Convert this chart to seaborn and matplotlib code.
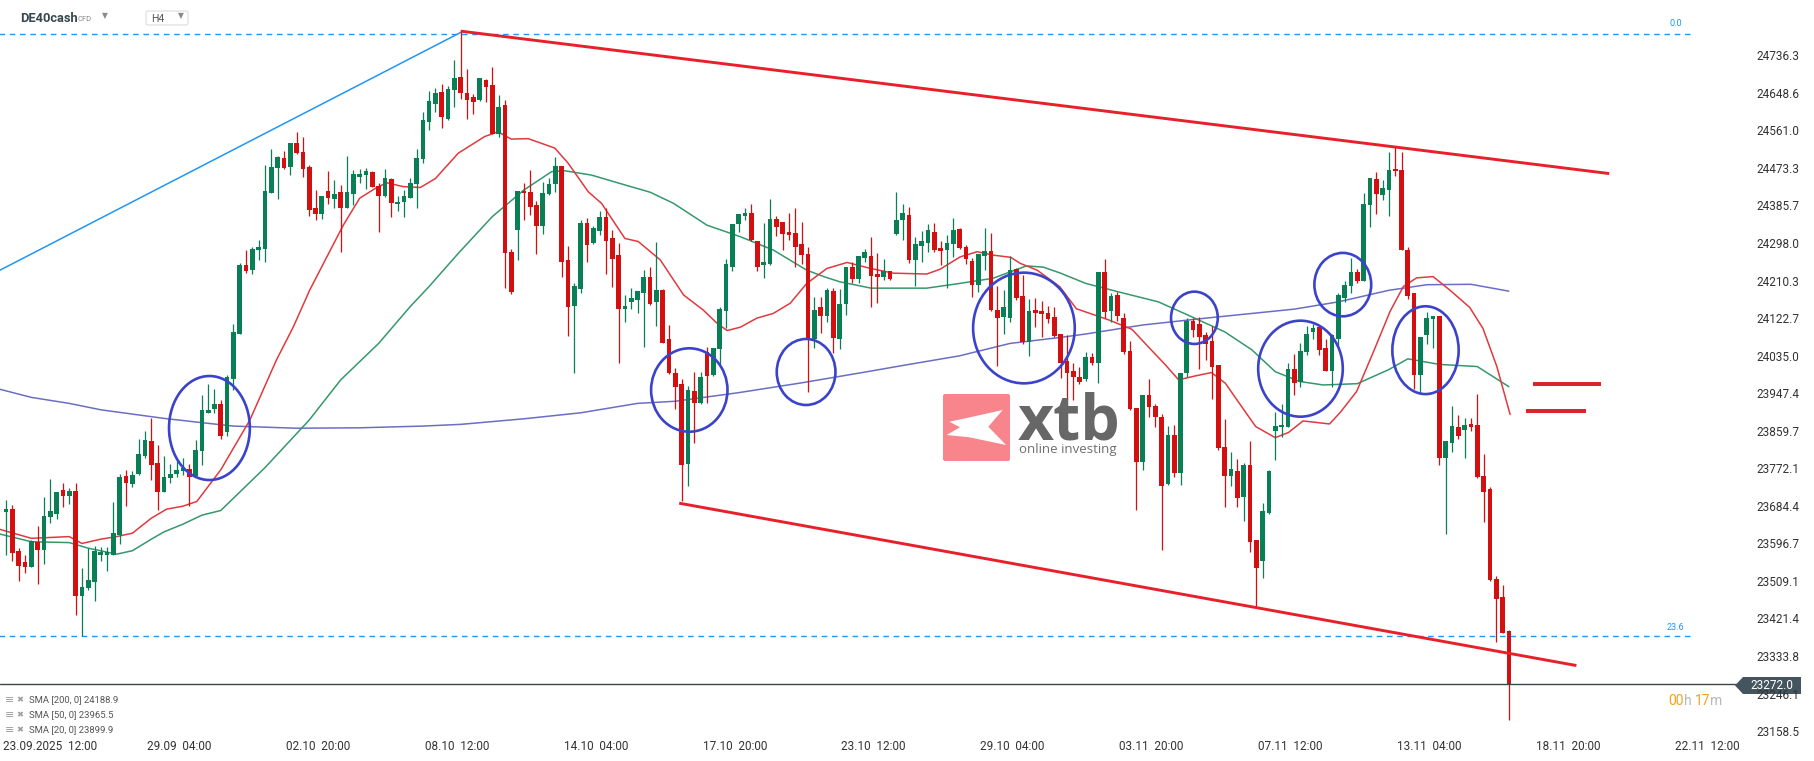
import numpy as np
import pandas as pd
import matplotlib
matplotlib.use("Agg")
import matplotlib.pyplot as plt
import matplotlib.transforms as mtransforms
from matplotlib.patches import Ellipse, Polygon, FancyBboxPatch
from matplotlib.lines import Line2D
import seaborn as sns

# ---------------- data ----------------
first_index = -6  # candle index of the first visible H4 candle (0 = 23.09.2025 12:00)
opens = [23674, 23680, 23582, 23557, 23546, 23603, 23585, 23662, 23669, 23725,
         23711, 23722, 23477, 23497, 23511, 23573, 23573, 23573, 23620, 23757,
         23739, 23762, 23804, 23839, 23788, 23721, 23752, 23762, 23768, 23773,
         23757, 23817, 23905, 23915, 23926, 23860, 23985, 24090, 24250, 24238,
         24285, 24287, 24419, 24476, 24501, 24478, 24534, 24514, 24479, 24383,
         24368, 24423, 24403, 24420, 24384, 24416, 24456, 24461, 24467, 24435,
         24410, 24451, 24392, 24398, 24407, 24439, 24497, 24585, 24626, 24654,
         24592, 24659, 24689, 24652, 24642, 24635, 24682, 24670, 24556, 24624,
         24280, 24332, 24423, 24421, 24390, 24341, 24416, 24439, 24481, 24262,
         24155, 24195, 24348, 24301, 24329, 24362, 24312, 24273, 24148, 24164,
         24168, 24185, 24221, 24164, 24192, 24077, 23997, 23972, 23785, 23956,
         23927, 24046, 23993, 24054, 24143, 24246, 24345, 24365, 24371, 24306,
         24249, 24252, 24357, 24350, 24327, 24325, 24299, 24276, 24077, 24151,
         24131, 24190, 24077, 24159, 24245, 24218, 24266, 24271, 24229, 24223,
         24236, 24322, 24354, 24367, 24262, 24295, 24302, 24326, 24289, 24285,
         24299, 24333, 24291, 24259, 24203, 24271, 24283, 24145, 24129, 24126,
         24241, 24178, 24071, 24145, 24143, 24139, 24129, 24089, 24026, 24003,
         23989, 23984, 24035, 24022, 24233, 24143, 24180, 24126, 24049, 23916,
         23789, 23947, 23921, 23896, 23739, 23853, 23765, 23997, 24119, 24112,
         24087, 24073, 24017, 23826, 23758, 23768, 23709, 23783, 23608, 23560,
         23670, 23863, 23871, 23873, 24007, 23977, 24047, 24093, 24105, 24056,
         24002, 24077, 24173, 24200, 24234, 24213, 24389, 24451, 24414, 24425,
         24474, 24473, 24286, 24184, 23993, 24087, 24124, 24130, 23799, 23835,
         23872, 23864, 23879, 23877, 23757, 23726, 23516, 23476, 23396]
highs = [23701, 23690, 23589, 23573, 23607, 23641, 23708, 23750, 23721, 23742,
         23729, 23742, 23543, 23589, 23594, 23592, 23592, 23696, 23762, 23771,
         23770, 23844, 23862, 23894, 23830, 23804, 23786, 23793, 23799, 23786,
         23842, 23947, 23972, 23961, 23935, 23993, 24112, 24254, 24285, 24293,
         24308, 24484, 24521, 24505, 24517, 24536, 24561, 24549, 24483, 24425,
         24410, 24470, 24448, 24437, 24505, 24472, 24475, 24476, 24470, 24441,
         24475, 24452, 24410, 24425, 24454, 24520, 24607, 24656, 24663, 24673,
         24668, 24729, 24797, 24708, 24649, 24687, 24684, 24712, 24647, 24635,
         24287, 24423, 24441, 24472, 24399, 24444, 24454, 24502, 24482, 24294,
         24207, 24355, 24359, 24340, 24377, 24382, 24332, 24301, 24180, 24197,
         24190, 24238, 24246, 24303, 24194, 24110, 24009, 23985, 23968, 24001,
         24001, 24058, 24057, 24151, 24263, 24346, 24370, 24382, 24392, 24307,
         24349, 24404, 24364, 24351, 24372, 24382, 24351, 24291, 24176, 24175,
         24196, 24196, 24193, 24245, 24258, 24270, 24287, 24316, 24279, 24264,
         24237, 24421, 24393, 24385, 24316, 24330, 24346, 24349, 24305, 24319,
         24359, 24336, 24297, 24266, 24276, 24336, 24324, 24201, 24192, 24270,
         24242, 24227, 24170, 24172, 24165, 24154, 24151, 24090, 24087, 24022,
         24013, 24048, 24044, 24234, 24263, 24184, 24186, 24139, 24073, 23916,
         23947, 23983, 23926, 23902, 23874, 23877, 23999, 24127, 24127, 24128,
         24094, 24108, 24017, 23890, 23814, 23796, 23787, 23839, 23609, 23694,
         23772, 23906, 23926, 24021, 24042, 24068, 24108, 24113, 24111, 24077,
         24089, 24184, 24212, 24267, 24240, 24418, 24454, 24467, 24449, 24514,
         24525, 24514, 24292, 24184, 24082, 24140, 24130, 24130, 23839, 23920,
         23900, 23893, 23893, 23949, 23808, 23732, 23525, 23503, 23397]
lows = [23573, 23560, 23513, 23532, 23546, 23505, 23552, 23648, 23658, 23686,
        23692, 23433, 23384, 23491, 23466, 23560, 23536, 23573, 23599, 23687,
        23731, 23760, 23800, 23748, 23678, 23719, 23742, 23756, 23760, 23687,
        23757, 23782, 23905, 23904, 23845, 23850, 23958, 24088, 24232, 24230,
        24262, 24258, 24418, 24405, 24474, 24461, 24509, 24456, 24365, 24356,
        24358, 24392, 24384, 24281, 24383, 24390, 24441, 24427, 24431, 24326,
        24409, 24363, 24377, 24363, 24407, 24382, 24489, 24565, 24608, 24571,
        24589, 24620, 24638, 24591, 24603, 24633, 24631, 24555, 24550, 24196,
        24182, 24262, 24355, 24367, 24276, 24323, 24414, 24421, 24221, 24084,
        23999, 24185, 24256, 24299, 24320, 24229, 24199, 24022, 24118, 24148,
        24139, 24059, 24157, 24108, 24067, 23996, 23915, 23698, 23733, 23835,
        23926, 23927, 23990, 24020, 24102, 24237, 24326, 24354, 24307, 24237,
        24219, 24250, 24318, 24285, 24308, 24246, 24252, 23954, 24056, 24091,
        24118, 24045, 24054, 24133, 24207, 24207, 24258, 24151, 24162, 24214,
        24214, 24320, 24308, 24254, 24200, 24256, 24281, 24281, 24250, 24196,
        24268, 24287, 24252, 24175, 24188, 24238, 24143, 24014, 24089, 24118,
        24168, 24066, 24038, 24106, 24083, 24114, 24083, 23986, 23937, 23935,
        23972, 23980, 24017, 23974, 24126, 24116, 24120, 24042, 23912, 23678,
        23772, 23896, 23873, 23585, 23737, 23756, 23737, 23989, 24083, 24007,
        24028, 23937, 23818, 23686, 23733, 23684, 23653, 23579, 23449, 23519,
        23669, 23795, 23848, 23871, 23947, 23966, 24040, 24077, 24041, 24002,
        23966, 24062, 24164, 24184, 24207, 24212, 24338, 24369, 24402, 24365,
        24458, 24284, 24171, 23961, 23952, 24066, 24056, 23784, 23621, 23814,
        23845, 23799, 23863, 23752, 23649, 23513, 23370, 23390, 23189]
closes = [23680, 23578, 23548, 23546, 23606, 23585, 23664, 23676, 23719, 23711,
          23722, 23477, 23499, 23515, 23583, 23581, 23579, 23624, 23754, 23742,
          23760, 23810, 23841, 23782, 23721, 23754, 23762, 23772, 23775, 23754,
          23818, 23912, 23912, 23926, 23852, 23989, 24094, 24250, 24237, 24287,
          24291, 24423, 24480, 24503, 24477, 24535, 24512, 24475, 24378, 24368,
          24410, 24406, 24416, 24384, 24420, 24463, 24463, 24469, 24433, 24410,
          24453, 24394, 24397, 24411, 24441, 24500, 24589, 24633, 24652, 24596,
          24661, 24687, 24652, 24635, 24631, 24687, 24666, 24556, 24619, 24277,
          24188, 24423, 24417, 24386, 24341, 24418, 24439, 24481, 24258, 24153,
          24201, 24348, 24297, 24336, 24362, 24306, 24264, 24148, 24154, 24174,
          24189, 24222, 24159, 24192, 24069, 23997, 23966, 23783, 23958, 23927,
          23988, 23992, 24056, 24147, 24252, 24346, 24369, 24371, 24308, 24246,
          24258, 24357, 24338, 24322, 24319, 24293, 24273, 24077, 24145, 24131,
          24192, 24080, 24159, 24245, 24218, 24270, 24280, 24225, 24223, 24236,
          24217, 24355, 24372, 24262, 24299, 24306, 24332, 24284, 24283, 24301,
          24332, 24289, 24264, 24203, 24276, 24283, 24144, 24127, 24151, 24238,
          24172, 24071, 24143, 24139, 24136, 24124, 24085, 24022, 23999, 23988,
          23978, 24035, 24022, 24233, 24141, 24178, 24130, 24048, 23913, 23789,
          23947, 23919, 23896, 23735, 23853, 23765, 23999, 24119, 24098, 24083,
          24066, 24013, 23822, 23758, 23774, 23707, 23783, 23604, 23542, 23676,
          23770, 23874, 23877, 24007, 23974, 24050, 24090, 24102, 24051, 24002,
          24086, 24179, 24204, 24234, 24212, 24393, 24454, 24416, 24429, 24473,
          24469, 24285, 24178, 23993, 24081, 24126, 24130, 23799, 23839, 23875,
          23852, 23877, 23873, 23756, 23721, 23514, 23471, 23391, 23272]

sma200_x = [-7, -2, 4, 9, 14, 19, 25, 30, 40, 50, 60, 66, 76, 85, 94, 100, 110,
            120, 130, 137, 145, 153, 161, 165, 174, 184, 198, 205, 213, 219, 226, 232]
sma200_y = [23960, 23941, 23927, 23912, 23902, 23892, 23882, 23874, 23869, 23870,
            23874, 23878, 23891, 23905, 23927, 23932, 23952, 23975, 24000, 24018,
            24038, 24067, 24081, 24089, 24110, 24126, 24147, 24164, 24191, 24204,
            24205, 24189]
sma50_x = [-7, -2, 4, 7, 11.5, 14, 17, 19, 22, 25, 28, 35, 42, 47, 53, 58, 61,
           65.6, 71, 76, 80.4, 82.5, 86.7, 92, 96, 99.7, 105, 110.3, 115.5, 120.8,
           123.5, 126, 131, 139.8, 145, 150.3, 155.6, 158.3, 161, 165, 170, 176.5,
           181.8, 187, 191.3, 195, 198.9, 202.6, 208, 213, 216, 221, 227, 232]
sma50_y = [23622, 23604, 23602, 23589, 23575, 23583, 23610, 23627, 23645, 23666,
           23677, 23777, 23888, 23982, 24067, 24153, 24200, 24277, 24363, 24425,
           24468, 24470, 24460, 24437, 24420, 24394, 24343, 24316, 24285, 24238,
           24223, 24211, 24196, 24196, 24207, 24219, 24248, 24245, 24231, 24207,
           24188, 24164, 24129, 24094, 24052, 24001, 23978, 23970, 23973, 24006,
           24031, 24018, 24013, 23966]
sma20_x = [-7, -2, 4, 6, 9, 11.5, 14, 17, 19.4, 22, 24.2, 28, 32.6, 36.8, 39.5,
           42.1, 44.8, 47.4, 50, 52.7, 54.3, 56.9, 59.6, 62, 65.6, 69.8, 71.9, 74,
           76.7, 80.9, 83, 86.2, 88.3, 92, 94.1, 97.6, 101.3, 104.4, 106.6, 108.2,
           110.3, 112.9, 115.5, 118.2, 120.8, 124, 127.2, 130.9, 134.5, 139.8,
           141.9, 145.1, 147.8, 150.4, 153.1, 154.6, 157.3, 160.9, 163.5, 168.6,
           172.3, 174.9, 177.6, 179.7, 182.3, 184.9, 187.1, 189.7, 191.9, 195,
           197.1, 199.4, 203.6, 205.3, 207.9, 210.6, 213.2, 215.3, 217.4, 220,
           222.7, 225.8, 227.9, 230.1, 232.2]
sma20_y = [23633, 23612, 23616, 23600, 23610, 23616, 23624, 23659, 23680, 23687,
           23698, 23772, 23888, 24028, 24106, 24192, 24269, 24343, 24406, 24431,
           24442, 24433, 24431, 24452, 24511, 24550, 24561, 24544, 24545, 24523,
           24488, 24421, 24394, 24312, 24305, 24262, 24180, 24145, 24114, 24097,
           24105, 24126, 24137, 24161, 24207, 24242, 24256, 24242, 24231, 24229,
           24240, 24269, 24281, 24273, 24268, 24254, 24238, 24199, 24148, 24122,
           24100, 24059, 24017, 23982, 23991, 23999, 23974, 23919, 23873, 23847,
           23859, 23886, 23879, 23906, 23955, 24049, 24142, 24200, 24220, 24223,
           24191, 24151, 24102, 24013, 23901]

price_ticks = [24736.3, 24648.6, 24561.0, 24473.3, 24385.7, 24298.0, 24210.3,
               24122.7, 24035.0, 23947.4, 23859.7, 23772.1, 23684.4, 23596.7,
               23509.1, 23421.4, 23333.8, 23246.1, 23158.5]
x_tick_pos = [0, 22, 44, 66, 88, 110, 132, 154, 176, 198, 220, 242, 264]
x_tick_labels = ["23.09.2025  12:00", "29.09  04:00", "02.10  20:00", "08.10  12:00",
                 "14.10  04:00", "17.10  20:00", "23.10  12:00", "29.10  04:00",
                 "03.11  20:00", "07.11  12:00", "13.11  04:00", "18.11  20:00",
                 "22.11  12:00"]
fib_levels = [24790.0, 23385.0]
fib_names = ["0.0", "23.6"]
fib_line = ([-6.97, 66.0], [24238.0, 24793.0])
channel_upper = ([66.0, 247.9], [24796.0, 24463.5])
channel_lower = ([100.6, 242.7], [23694.0, 23315.0])
equal_marks = [([235.9, 246.6], 23971.6), ([234.7, 244.2], 23909.5)]
circles_cx = [26.2, 102.2, 120.7, 155.2, 182.2, 199.0, 205.7, 218.8]
circles_cy = [23869.5, 23958.2, 24000.3, 24103.0, 24126.8, 24008.0, 24204.3, 24051.2]
circles_w = [12.8, 12.1, 9.3, 16.1, 7.4, 13.4, 9.0, 10.5]
circles_h = [242.8, 194.7, 154.1, 258.4, 122.1, 224.1, 148.0, 205.0]
last_price = 23272.0
sma_names = ["SMA [200, 0] 24188.9", "SMA [50, 0] 23965.5", "SMA [20, 0] 23899.9"]

# ---------------- styling ----------------
sns.set_theme(style="white")
plt.rcParams['font.family'] = ['Roboto', 'DejaVu Sans']

GREEN = "#097f55"
RED = "#d40f0f"
W, H = 1815, 761
X0, DX = 44.0, 6.314          # pixel of candle 0, pixels per candle
Y_TOP, DY = 24868.7, 2.3345   # price at top pixel, price per pixel

fig = plt.figure(figsize=(W / 100, H / 100), dpi=100)
fig.patch.set_facecolor("white")
AX_RIGHT, AX_BOTTOM = 1692, 736
ax = fig.add_axes([0, (H - AX_BOTTOM) / H, AX_RIGHT / W, AX_BOTTOM / H])
ax.set_facecolor("white")
ax.set_xlim(-X0 / DX, (AX_RIGHT - X0) / DX)
ax.set_ylim(Y_TOP - DY * AX_BOTTOM, Y_TOP)
ax.set_xticks([])
ax.set_yticks([])
for s in ax.spines.values():
    s.set_visible(False)

tpx = mtransforms.Affine2D().scale(1 / W, -1 / H).translate(0, 1) + fig.transFigure

# fib dashed levels
x_right_idx = (1690 - X0) / DX
for lev in fib_levels:
    ax.plot([-10, x_right_idx], [lev, lev], color="#2196f3", lw=1.0,
            linestyle=(0, (4.0, 3.4)), zorder=1)
ax.plot(fib_line[0], fib_line[1], color="#2196f3", lw=1.1, zorder=1)

# price line
fig.add_artist(Line2D([0, 1740], [684, 684], transform=tpx, color="#3c464e", lw=1.0, zorder=0.5))

# SMA lines with seaborn
sma_df = pd.concat([
    pd.DataFrame({"idx": sma200_x, "val": sma200_y, "sma": "200"}),
    pd.DataFrame({"idx": sma50_x, "val": sma50_y, "sma": "50"}),
    pd.DataFrame({"idx": sma20_x, "val": sma20_y, "sma": "20"}),
])
pal = {"200": "#6a6fc4", "50": "#35986c", "20": "#e03a3e"}
sns.lineplot(data=sma_df, x="idx", y="val", hue="sma", palette=pal, sort=False,
             estimator=None, legend=False, lw=1.1, ax=ax, zorder=2)
ax.set_xlabel("")
ax.set_ylabel("")

# candles
idx = np.arange(first_index, first_index + len(opens))
o, h, l, c = (np.array(a, dtype=float) for a in (opens, highs, lows, closes))
cols = np.where(c >= o, GREEN, RED)
ax.vlines(idx, l, h, colors=cols, lw=0.9, zorder=3)
ax.bar(idx, np.maximum(np.abs(c - o), 2.4), bottom=np.minimum(o, c), width=0.74,
       color=cols, linewidth=0, zorder=3)

# channel and marks
ax.plot(channel_upper[0], channel_upper[1], color="#e8202a", lw=2.1, zorder=5,
        solid_capstyle="butt")
ax.plot(channel_lower[0], channel_lower[1], color="#e8202a", lw=2.1, zorder=5,
        solid_capstyle="butt")
for xs, yv in equal_marks:
    ax.plot(xs, [yv, yv], color="#d9252b", lw=2.9, zorder=5, solid_capstyle="butt")

for cx, cy, w, hh in zip(circles_cx, circles_cy, circles_w, circles_h):
    ax.add_patch(Ellipse((cx, cy), w, hh, fill=False, ec="#3a43c9", lw=1.9, zorder=6))

# right price axis labels
for p in price_ticks:
    ypx = (Y_TOP - p) / DY
    fig.text(1799 / W, 1 - ypx / H, f"{p:.1f}", ha="right", va="center",
             fontsize=8.5, color="#333333")
# current price box
box = Polygon([[1735, 685.5], [1743, 677], [1801, 677], [1801, 694], [1743, 694]],
              closed=True, transform=tpx, fc="#455560", ec="none", zorder=3)
fig.add_artist(box)
fig.text(1772 / W, 1 - 685.5 / H, f"{last_price:.1f}", ha="center", va="center",
         fontsize=8.5, color="white", zorder=4)

# fib labels
fig.text(1676 / W, 1 - 24 / H, fib_names[0], ha="center", va="center",
         fontsize=6.5, color="#2196f3")
fig.text(1675 / W, 1 - 628 / H, fib_names[1], ha="center", va="center",
         fontsize=6.5, color="#2196f3")

# x labels
for pos, lab in zip(x_tick_pos, x_tick_labels):
    xpx = X0 + DX * (pos - 0.6)
    if pos == 0:
        fig.text(3 / W, 1 - 747 / H, lab, ha="left", va="center", fontsize=8.5, color="#333333")
    else:
        fig.text(xpx / W, 1 - 747 / H, lab, ha="center", va="center", fontsize=8.5,
                 color="#333333")

# SMA legend
for k, name in enumerate(sma_names):
    ypx = 700 + 15 * k
    fig.text(5 / W, 1 - ypx / H, "\u2261", ha="left", va="center", fontsize=8,
             color="#9e9e9e", family="DejaVu Sans")
    fig.text(16 / W, 1 - ypx / H, "\u2716", ha="left", va="center", fontsize=6,
             color="#9e9e9e", family="DejaVu Sans")
    fig.text(29 / W, 1 - ypx / H, name, ha="left", va="center", fontsize=6.8,
             color="#555555")

# countdown
fig.text(1668 / W, 1 - 701 / H, "00", ha="left", va="center", fontsize=10, color="#f5a11c")
fig.text(1684 / W, 1 - 701 / H, "h", ha="left", va="center", fontsize=10, color="#b8b8b8")
fig.text(1695 / W, 1 - 701 / H, "17", ha="left", va="center", fontsize=10, color="#f5a11c")
fig.text(1710 / W, 1 - 701 / H, "m", ha="left", va="center", fontsize=10, color="#b8b8b8")

# header
fig.text(20 / W, 1 - 18 / H, "DE40cash", ha="left", va="center", fontsize=9.3,
         fontweight="bold", color="#37474f")
fig.text(78 / W, 1 - 19 / H, "CFD", ha="left", va="center", fontsize=5.5, color="#8a8a8a")
fig.text(105 / W, 1 - 16 / H, "\u25BC", ha="center", va="center", fontsize=5.5,
         color="#8a8a8a", family="DejaVu Sans")
fig.add_artist(FancyBboxPatch((146, 11), 42, 14, boxstyle="round,pad=0,rounding_size=2",
                              transform=tpx, fc="white", ec="#dcdcdc", lw=0.8))
fig.text(151 / W, 1 - 19 / H, "H4", ha="left", va="center", fontsize=7.5, color="#555555")
fig.text(181 / W, 1 - 16 / H, "\u25BC", ha="center", va="center", fontsize=5.5,
         color="#8a8a8a", family="DejaVu Sans")

# watermark logo (on top of candles)
fig.add_artist(FancyBboxPatch((943, 394), 67, 67, boxstyle="round,pad=0,rounding_size=2",
                              transform=tpx, fc="#f8858b", ec="none", zorder=7))
fig.add_artist(Polygon([[949.3, 421.7], [970, 417.3], [1002.7, 410], [988.3, 426.7],
                        [1006, 445], [969.3, 437.3], [946.7, 435], [960, 427.3]],
                       closed=True, transform=tpx, fc="white", ec="none", zorder=8))
fig.text(1018 / W, 1 - 439 / H, "xtb", ha="left", va="baseline", fontsize=45,
         fontweight="bold", color="#676767", family="Open Sans", zorder=8)
fig.text(1019 / W, 1 - 450 / H, "online investing", ha="left", va="center", fontsize=9.5,
         color="#6f6f6f", family="Open Sans", zorder=8)

fig.savefig("out.png", dpi=100, facecolor="white")
